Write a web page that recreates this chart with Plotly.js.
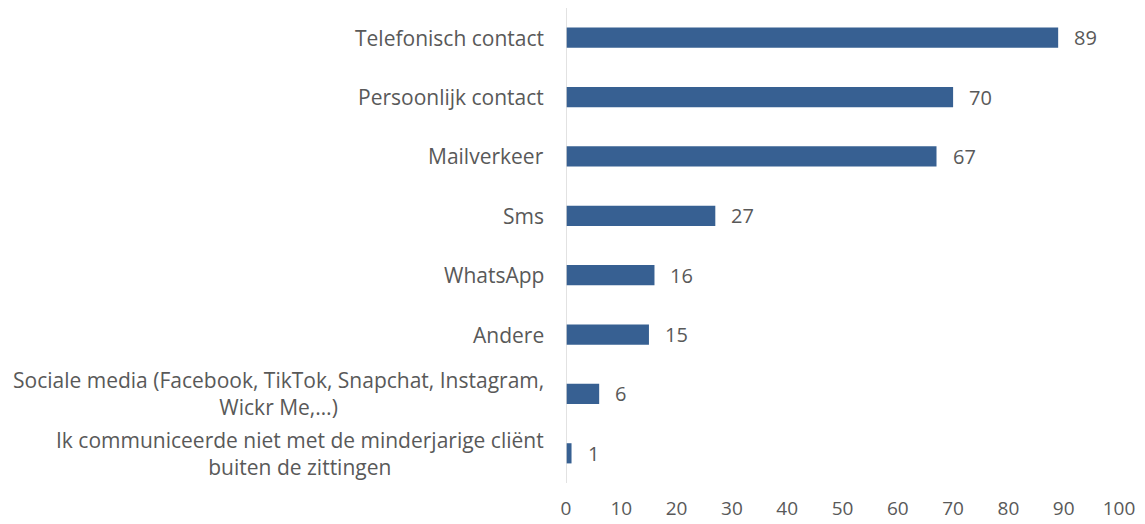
<!DOCTYPE html>
<html><head><meta charset="utf-8">
<script src="https://cdn.plot.ly/plotly-3.0.1.min.js"></script>
<style>body{margin:0;background:#fff}#c{width:1145px;height:524px}</style>
</head><body><div id="c"></div>
<script>
const categories = [
  "Telefonisch contact",
  "Persoonlijk contact",
  "Mailverkeer",
  "Sms",
  "WhatsApp",
  "Andere",
  "Sociale media (Facebook, TikTok, Snapchat, Instagram,<br>Wickr Me,…)",
  "Ik communiceerde niet met de minderjarige cliënt<br>buiten de zittingen"
];
const values = [89, 70, 67, 27, 16, 15, 6, 1];
const xTicks = [0, 10, 20, 30, 40, 50, 60, 70, 80, 90, 100];

const FONT = "'Open Sans', 'Noto Sans', sans-serif";
const GREY = "#595959";

const annotations = [];
categories.forEach((c, i) => {
  annotations.push({
    xref: "paper", yref: "y", x: 0, y: i, xanchor: "right", yanchor: "middle",
    xshift: -20, text: c, showarrow: false, align: "center",
    font: {family: FONT, size: 21, color: GREY}
  });
  annotations.push({
    xref: "x", yref: "y", x: values[i], y: i, xanchor: "left", yanchor: "middle",
    xshift: 14, text: String(values[i]), showarrow: false,
    font: {family: FONT, size: 20, color: GREY}
  });
});

Plotly.newPlot("c", [{
  type: "bar", orientation: "h",
  x: values, y: categories.map((c, i) => i),
  marker: {color: "#376092"},
  hoverinfo: "none"
}], {
  width: 1145, height: 524,
  margin: {l: 566, r: 26, t: 8, b: 41},
  paper_bgcolor: "#fff", plot_bgcolor: "#fff",
  bargap: 0.66,
  showlegend: false,
  xaxis: {
    range: [0, 100], tickvals: xTicks, ticktext: xTicks.map(String),
    showgrid: false, zeroline: false, showline: false, ticks: "",
    tickfont: {family: FONT, size: 19, color: GREY}, ticklabelstandoff: 12,
    fixedrange: true
  },
  yaxis: {
    range: [7.5, -0.5], showticklabels: false, showgrid: false,
    zeroline: false, showline: false, ticks: "", fixedrange: true
  },
  shapes: [{
    type: "line", xref: "x", yref: "paper", x0: 0, x1: 0, y0: 0, y1: 1,
    line: {color: "#d9d9d9", width: 1.5}
  }],
  annotations: annotations
}, {displayModeBar: false, staticPlot: true});
</script></body></html>
